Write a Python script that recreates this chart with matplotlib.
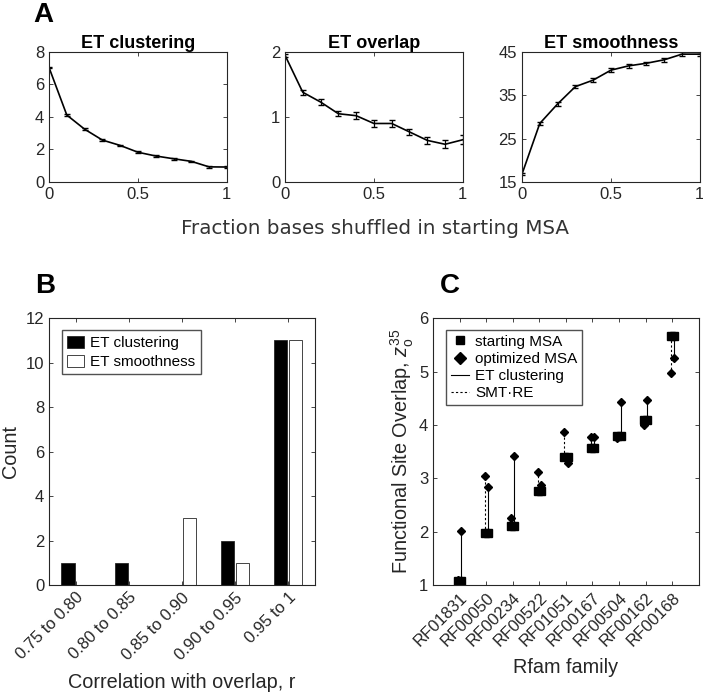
import numpy as np
import matplotlib.pyplot as plt
from matplotlib.lines import Line2D

plt.rcParams['font.family'] = ['Liberation Sans', 'DejaVu Sans']
plt.rcParams['mathtext.fontset'] = 'custom'
plt.rcParams['mathtext.rm'] = 'Liberation Sans'
plt.rcParams['mathtext.it'] = 'Liberation Sans:italic'

# ---- panel A data ----
frac = [0, 0.1, 0.2, 0.3, 0.4, 0.5, 0.6, 0.7, 0.8, 0.9, 1.0]
clust = [7.05, 4.12, 3.25, 2.58, 2.25, 1.83, 1.60, 1.43, 1.27, 0.93, 0.92]
clust_err = [0.05, 0.06, 0.05, 0.05, 0.05, 0.05, 0.05, 0.05, 0.05, 0.05, 0.05]
overlap = [1.95, 1.38, 1.23, 1.05, 1.02, 0.90, 0.90, 0.77, 0.64, 0.58, 0.65]
overlap_err = [0.02, 0.04, 0.04, 0.04, 0.05, 0.05, 0.05, 0.05, 0.05, 0.06, 0.07]
smooth = [16.8, 28.5, 33.0, 37.0, 38.5, 40.8, 41.8, 42.4, 43.2, 44.5, 44.5]
smooth_err = [0.3, 0.4, 0.4, 0.4, 0.4, 0.4, 0.4, 0.4, 0.4, 0.4, 0.4]

# ---- panel B data ----
bins = ['0.75 to 0.80', '0.80 to 0.85', '0.85 to 0.90', '0.90 to 0.95', '0.95 to 1']
count_clust = [1, 1, 0, 2, 11]
count_smooth = [0, 0, 3, 1, 11]

# ---- panel C data ----
families = ['RF01831', 'RF00050', 'RF00234', 'RF00522', 'RF01051',
            'RF00167', 'RF00504', 'RF00162', 'RF00168']
start_msa = [1.08, 1.97, 2.10, 2.77, 3.40, 3.57, 3.80, 4.10, 5.67]
opt_clust = [2.02, 2.83, 3.42, 2.87, 3.28, 3.78, 4.43, 4.46, 5.26]
opt_smtre = [1.10, 3.05, 2.25, 3.12, 3.86, 3.78, 3.75, 4.00, 4.98]

axc = '#262626'
plt.rcParams['axes.edgecolor'] = axc
plt.rcParams['xtick.color'] = axc
plt.rcParams['ytick.color'] = axc
plt.rcParams['axes.labelcolor'] = axc
plt.rcParams['axes.linewidth'] = 0.8


def box_ticks(ax):
    ax.tick_params(direction='in', top=True, right=True, labelsize=12,
                   length=3, width=0.6)


fig = plt.figure(figsize=(7.03, 6.93), dpi=100)

# panel A
a_specs = [(0.0697, 'ET clustering', clust, clust_err, (0, 8), [0, 2, 4, 6, 8]),
           (0.4054, 'ET overlap', overlap, overlap_err, (0, 2), [0, 1, 2]),
           (0.7425, 'ET smoothness', smooth, smooth_err, (15, 45), [15, 25, 35, 45])]
for left, title, y, e, yl, yt in a_specs:
    ax = fig.add_axes([left, 0.7374, 0.253, 0.1876])
    ax.errorbar(frac, y, yerr=e, color='k', lw=1.2, capsize=2.5, elinewidth=0.9)
    ax.set_xlim(0, 1)
    ax.set_ylim(*yl)
    ax.set_yticks(yt)
    ax.set_xticks([0, 0.5, 1])
    ax.set_xticklabels(['0', '0.5', '1'])
    ax.set_title(title, fontsize=13, fontweight='bold', pad=3)
    box_ticks(ax)

fig.text(0.533, 1 - 228 / 693, 'Fraction bases shuffled in starting MSA',
         fontsize=14.3, family='DejaVu Sans', color='#333333', ha='center', va='center')

# panel B
axb = fig.add_axes([0.0697, 0.1558, 0.378, 0.385])
xb = np.arange(1, len(bins) + 1)
axb.bar(xb - 0.14, count_clust, width=0.25, color='k', edgecolor=axc, lw=0.6,
        label='ET clustering')
axb.bar(xb + 0.14, count_smooth, width=0.25, color='white', edgecolor=axc, lw=0.6,
        label='ET smoothness')
axb.set_xlim(0.5, 5.5)
axb.set_ylim(0, 12)
axb.set_yticks(range(0, 13, 2))
axb.set_xticks(xb)
axb.set_xticklabels(bins, rotation=45, ha='right', va='top', rotation_mode='anchor')
axb.set_ylabel('Count', fontsize=14.3)
axb.set_xlabel('Correlation with overlap, r', fontsize=14.3)
axb.xaxis.set_label_coords(0.5, -0.33)
box_ticks(axb)
axb.legend(loc='upper left', bbox_to_anchor=(0.049, 0.955), borderaxespad=0,
           fontsize=11, frameon=True, fancybox=False, edgecolor=axc,
           handlelength=1.1, handleheight=0.85, borderpad=0.35,
           labelspacing=0.3, handletextpad=0.4)

# panel C
axcc = fig.add_axes([0.616, 0.1558, 0.378, 0.385])
xc = np.arange(1, len(families) + 1)
off = 0.06
for i in range(len(families)):
    axcc.plot([xc[i] - off, xc[i] - off], [start_msa[i], opt_smtre[i]],
              color='k', lw=0.8, ls=(0, (2, 2)))
    axcc.plot([xc[i] + off, xc[i] + off], [start_msa[i], opt_clust[i]],
              color='k', lw=0.8)
axcc.plot(xc - off, start_msa, 's', color='k', ms=6, ls='none')
axcc.plot(xc + off, start_msa, 's', color='k', ms=6, ls='none')
axcc.plot(xc - off, opt_smtre, 'D', color='k', ms=4.5, ls='none')
axcc.plot(xc + off, opt_clust, 'D', color='k', ms=4.5, ls='none')
axcc.set_xlim(0, 10)
axcc.set_ylim(1, 6)
axcc.set_xticks(xc)
axcc.set_xticklabels(families, rotation=45, ha='right', va='top', rotation_mode='anchor')
axcc.set_yticks(range(1, 7))
axcc.set_ylabel(r'Functional Site Overlap, $z^{35}_{\mathrm{o}}$', fontsize=14.3,
                labelpad=2)
axcc.set_xlabel('Rfam family', fontsize=14.3)
axcc.xaxis.set_label_coords(0.5, -0.275)
box_ticks(axcc)
handles = [Line2D([], [], marker='s', color='k', ls='none', ms=6),
           Line2D([], [], marker='D', color='k', ls='none', ms=6),
           Line2D([], [], color='k', lw=0.8),
           Line2D([], [], color='k', lw=0.8, ls=(0, (2, 2)))]
axcc.legend(handles, ['starting MSA', 'optimized MSA', 'ET clustering', 'SMT\u00b7RE'],
            loc='upper left', bbox_to_anchor=(0.049, 0.955), borderaxespad=0,
            fontsize=11, frameon=True, fancybox=False, edgecolor=axc,
            handlelength=1.2, borderpad=0.3, labelspacing=0.2, handletextpad=0.4)

# panel letters
for x, y, s in [(33, 15, 'A'), (35, 286, 'B'), (440, 286, 'C')]:
    fig.text(x / 703, 1 - y / 693, s, fontsize=20, fontweight='bold',
             ha='left', va='center')

fig.savefig('out.png', dpi=100)
